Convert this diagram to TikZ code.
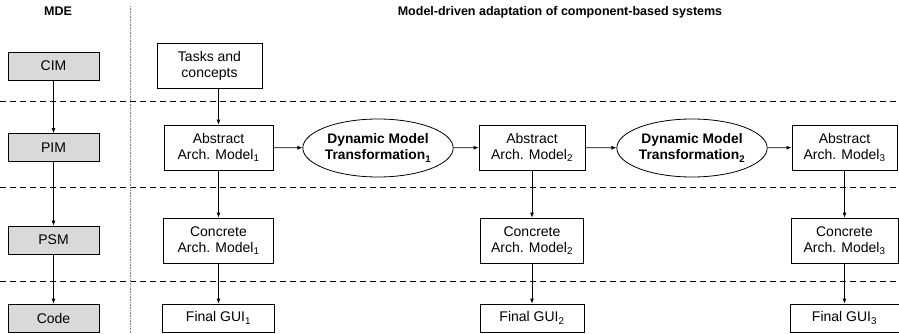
\documentclass[tikz,border=0pt]{standalone}
\usepackage{fontspec}
\setmainfont{Liberation Sans}
\usetikzlibrary{shapes.geometric,arrows.meta}

\begin{document}
\begin{tikzpicture}[x=1pt,y=-1pt,line width=0.8pt,
  every node/.style={font=\fontsize{14}{16}\selectfont},
  level/.style={draw,fill=gray!30,minimum width=91pt,minimum height=28pt,inner sep=0pt},
  model/.style={draw,fill=white,align=center,minimum height=45pt,inner sep=0pt},
  gui/.style={draw,fill=white,minimum height=28pt,inner sep=0pt},
  trans/.style={draw,ellipse,fill=white,align=center,minimum width=138pt,minimum height=58pt,inner sep=0pt,font=\fontsize{13.8}{16}\selectfont\bfseries},
  heading/.style={font=\fontsize{12.5}{14}\selectfont\bfseries},
  arr/.style={-{Latex[length=5pt,width=4pt]}},
  sep/.style={dash pattern=on 6pt off 4pt}]
\useasboundingbox (0,0) rectangle (899,334);

% separators
\draw[sep] (0,101) -- (899,101);
\draw[sep] (0,187) -- (899,187);
\draw[sep] (0,281) -- (899,281);
\draw[densely dotted,gray,line width=0.6pt] (130,6) -- (130,334);

% titles
\node[heading] (mde) at (58,11) {MDE};
\node[heading] (title) at (560,12) {Model-driven adaptation of component-based systems};

% MDE levels
\node[level] (cim) at (53.5,66) {CIM};
\node[level] (pim) at (53.5,147.5) {PIM};
\node[level] (psm) at (53.5,240) {PSM};
\node[level] (code) at (53.5,318) {Code};

% adaptation
\node[model,minimum width=105pt] (tasks) at (209.5,65.5) {Tasks and\\concepts};
\node[model,minimum width=109pt] (abs1) at (218.5,147.5) {Abstract\\Arch. Model\textsubscript{1}};
\node[model,minimum width=110pt] (con1) at (218.5,240.5) {Concrete\\Arch. Model\textsubscript{1}};
\node[gui,minimum width=112pt] (gui1) at (218.5,318) {Final GUI\textsubscript{1}};

\node[trans] (dmt1) at (378,148) {Dynamic Model\\Transformation\textsubscript{1}};

\node[model,minimum width=106pt] (abs2) at (532,147.5) {Abstract\\Arch. Model\textsubscript{2}};
\node[model,minimum width=103pt] (con2) at (532,240.5) {Concrete\\Arch. Model\textsubscript{2}};
\node[gui,minimum width=104pt] (gui2) at (532,318) {Final GUI\textsubscript{2}};

\node[trans] (dmt2) at (692,148) {Dynamic Model\\Transformation\textsubscript{2}};

\node[model,minimum width=105pt] (abs3) at (844.5,147.5) {Abstract\\Arch. Model\textsubscript{3}};
\node[model,minimum width=107pt] (con3) at (844.5,240.5) {Concrete\\Arch. Model\textsubscript{3}};
\node[gui,minimum width=109pt] (gui3) at (844.5,318) {Final GUI\textsubscript{3}};

% arrows
\draw[arr] (cim) -- (pim);
\draw[arr] (pim) -- (psm);
\draw[arr] (psm) -- (code);
\draw[arr] (tasks.south -| abs1) -- (abs1);
\draw[arr] (abs1) -- (con1);
\draw[arr] (con1) -- (gui1);
\draw[arr] (abs1) -- (dmt1);
\draw[arr] (dmt1) -- (abs2);
\draw[arr] (abs2) -- (con2);
\draw[arr] (con2) -- (gui2);
\draw[arr] (abs2) -- (dmt2);
\draw[arr] (dmt2) -- (abs3);
\draw[arr] (abs3) -- (con3);
\draw[arr] (con3) -- (gui3);
\end{tikzpicture}
\end{document}
